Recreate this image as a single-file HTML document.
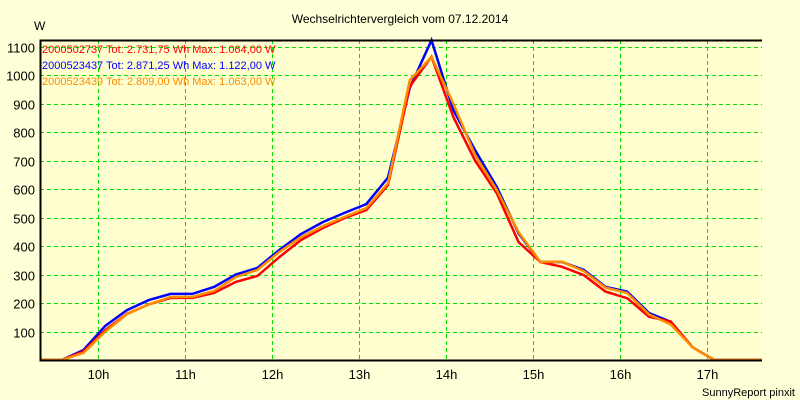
<!DOCTYPE html>
<html><head><meta charset="utf-8"><style>
body{margin:0;background:#ffffd8;}
svg{display:block;font-family:"Liberation Sans",Arial,sans-serif;}
</style></head><body>
<svg id="chart" width="800" height="400">
<rect x="0" y="0" width="800" height="400" fill="#ffffd8"/>
<text x="400" y="23" text-anchor="middle" font-size="12" fill="#000">Wechselrichtervergleich vom 07.12.2014</text>
<text x="34" y="30" font-size="12" fill="#000">W</text>
<text x="795" y="396" text-anchor="end" font-size="11" fill="#000">SunnyReport pinxit</text>
<g id="grid"></g>
<g id="series"></g>
<g id="axes"></g>
<g id="legend"></g>
</svg>
<script>
const times = ["9:35","9:50","10:05","10:20","10:35","10:50","11:05","11:20","11:35","11:50","12:05","12:20","12:35","12:50","13:05","13:20","13:35","13:50","14:05","14:20","14:35","14:50","15:05","15:20","15:35","15:50","16:05","16:20","16:35","16:50","17:05"];
const redValues = [0,30,105,162,195,218,218,235,274,295,361,421,463,498,526,614,960,1064,853,700,585,414,344,327,298,240,217,152,135,45,0];
const blueValues = [0,35,120,175,210,232,232,256,300,323,386,442,484,516,547,640,955,1122,877,737,607,445,344,344,316,257,240,165,134,45,0];
const orangeValues = [0,25,100,161,195,221,221,242,291,316,379,431,470,502,533,620,982,1063,900,720,596,449,344,345,312,254,235,160,125,45,0];
const yTicks = [100,200,300,400,500,600,700,800,900,1000,1100];
const xTicks = [10,11,12,13,14,15,16,17];
const legendLabels = ["2000502737 Tot: 2.731,75 Wh Max: 1.064,00 W","2000523437 Tot: 2.871,25 Wh Max: 1.122,00 W","2000523439 Tot: 2.809,00 Wh Max: 1.063,00 W"];

const NS="http://www.w3.org/2000/svg";
const L=40,R=762,T=40,B=360;
function xs(h){return 98+(h-10)*87;}
function ys(v){return 360-v*0.285;}
function tH(t){const p=t.split(":");return +p[0]+ +p[1]/60;}
function mk(tag,attrs,parent){const e=document.createElementNS(NS,tag);for(const k in attrs)e.setAttribute(k,attrs[k]);parent.appendChild(e);return e;}

const plotBg=mk("rect",{x:L,y:T,width:R-L,height:B-T,fill:"#ffffd0"},document.getElementById("chart"));


document.getElementById("chart").insertBefore(plotBg,document.getElementById("grid"));

const grid=document.getElementById("grid");
yTicks.forEach(v=>{
  const y=Math.round(ys(v))+0.5;
  const g=mk("line",{x1:L,x2:R,y1:y,y2:y,stroke:"#00e000","stroke-dasharray":"4,3"},grid);
  
  
  const t=mk("text",{x:35,y:y+5,"text-anchor":"end","font-size":"13",fill:"#000"},grid);
  t.textContent=v;
  
  
});
xTicks.forEach(h=>{
  const x=Math.round(xs(h))+0.5;
  const g=mk("line",{x1:x,x2:x,y1:T,y2:B,stroke:"#00e000","stroke-dasharray":"4,3"},grid);
  
  
  const t=mk("text",{x:x,y:379,"text-anchor":"middle","font-size":"13",fill:"#000"},grid);
  t.textContent=h+"h";
  
  
});

const ser=document.getElementById("series");
function drawSeries(vals,color,name){
  let pts="M"+L+","+B+" ";
  vals.forEach((v,i)=>{pts+="L"+xs(tH(times[i])).toFixed(1)+","+ys(v).toFixed(1)+" ";});
  pts+="L"+R+","+B;
  const p=mk("path",{d:pts,fill:"none",stroke:color,"stroke-width":"2.5","stroke-linejoin":"miter"},ser);
  
  
}
drawSeries(blueValues,"#0000ff","series-2000523437");
drawSeries(redValues,"#ff0000","series-2000502737");
drawSeries(orangeValues,"#ff8c00","series-2000523439");

const ax=document.getElementById("axes");
const a1=mk("polyline",{points:`${R},${T+0.5} ${L+0.5},${T+0.5} ${L+0.5},${B+0.5} ${R},${B+0.5}`,fill:"none",stroke:"#000","stroke-width":"2"},ax);



const lg=document.getElementById("legend");
const cols=["#ff0000","#0000ff","#ff8c00"];
legendLabels.forEach((s,i)=>{
  const t=mk("text",{x:42,y:53+i*16,"font-size":"11",fill:cols[i]},lg);
  t.textContent=s;
  
  
});
</script>
</body></html>
